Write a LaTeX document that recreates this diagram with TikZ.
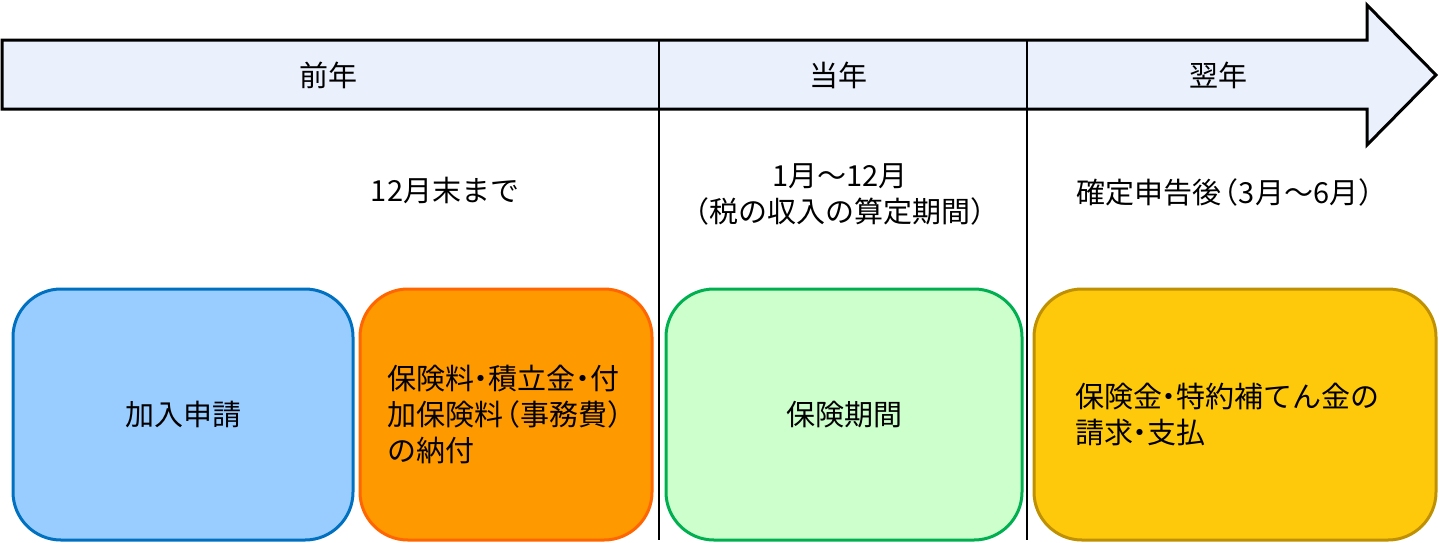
\documentclass[tikz,border=0pt]{standalone}
\usepackage{fontspec}
\setmainfont{Noto Sans CJK JP}
\definecolor{arrowfill}{HTML}{EAF1FC}
\definecolor{bluefill}{HTML}{99CCFF}
\definecolor{bluedraw}{HTML}{0070C0}
\definecolor{orangefill}{HTML}{FF9900}
\definecolor{orangedraw}{HTML}{FF6600}
\definecolor{greenfill}{HTML}{CCFFCC}
\definecolor{greendraw}{HTML}{00B050}
\definecolor{yellowfill}{HTML}{FFC90B}
\definecolor{yellowdraw}{HTML}{BF9000}
\newcommand{\nd}{\kern-0.25em・\kern-0.25em}
\newcommand{\lp}{\kern-0.4em（}
\newcommand{\rp}{）\kern-0.4em}
\tikzset{
  lbl/.style={font=\fontsize{14.5pt}{18pt}\selectfont, inner sep=0pt, align=center},
  stagebox/.style={rounded corners=24pt, line width=1.5pt, minimum height=125.5pt,
    font=\fontsize{14.5pt}{18pt}\selectfont, inner sep=0pt},
  divider/.style={line width=1pt, black},
}
\begin{document}
\begin{tikzpicture}[x=0.5pt,y=-0.5pt]
\useasboundingbox (0,0) rectangle (1439,542);
% timeline arrow
\draw[line width=1.5pt, fill=arrowfill, line join=miter]
  (2,40) -- (1367,40) -- (1367,5) -- (1436,75) -- (1367,145) -- (1367,109) -- (2,109) -- cycle;
% dividers
\coordinate (d1t) at (659,40);
\coordinate (d1b) at (659,540);
\coordinate (d2t) at (1027,40);
\coordinate (d2b) at (1027,540);
\draw[divider] (d1t) -- (d1b);
\draw[divider] (d2t) -- (d2b);
% year labels
\node[lbl] (prev) at (328,75) {前年};
\node[lbl] (curr) at (838,75) {当年};
\node[lbl] (next) at (1218,75) {翌年};
% timing labels
\node[lbl] (t1) at (445,190) {12月末まで};
\node[lbl] (t2) at (840,194) {1月～12月\\\lp 税の収入の算定期間\rp};
\node[lbl] (t3) at (1226,192) {確定申告後\lp 3月～6月\rp};
% boxes
\node[stagebox, draw=bluedraw, fill=bluefill, minimum width=170pt] (b1) at (183,414.5) {加入申請};
\node[stagebox, draw=orangedraw, fill=orangefill, minimum width=146pt, align=left] (b2) at (506,414.5)
  {保険料\nd 積立金\nd 付\\加保険料\lp 事務費\rp\\の納付};
\node[stagebox, draw=greendraw, fill=greenfill, minimum width=178pt] (b3) at (844,414.5) {保険期間};
\node[stagebox, draw=yellowdraw, fill=yellowfill, minimum width=201pt, text width=160pt, align=left] (b4) at (1235,414.5)
  {保険金\nd 特約補てん金の\\請求\nd 支払};
\end{tikzpicture}
\end{document}
